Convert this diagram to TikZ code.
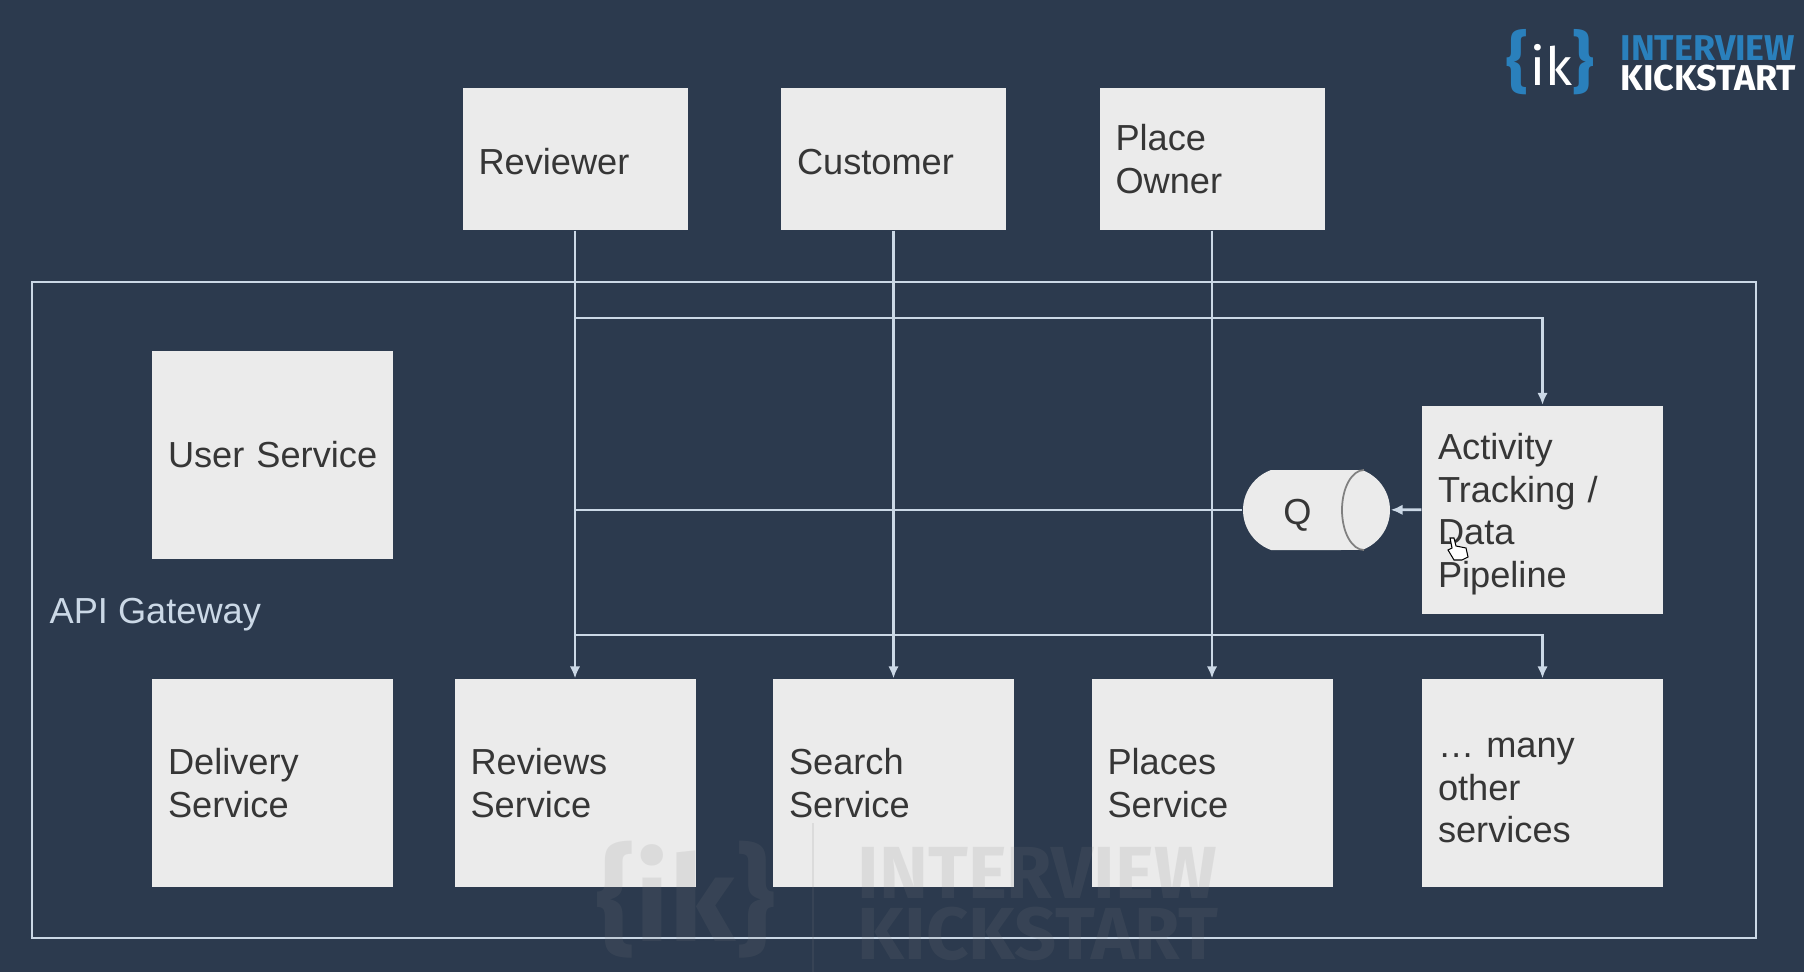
\documentclass[tikz,border=0pt]{standalone}
\usepackage{fontspec}
\setmainfont{Liberation Sans}
\newfontfamily\logofont{Fira Sans}
\usetikzlibrary{positioning,arrows.meta,shapes.misc}
\definecolor{slidebg}{HTML}{2C3A4E}
\definecolor{boxfill}{HTML}{EBEBEB}
\definecolor{boxtext}{HTML}{363636}
\definecolor{wire}{HTML}{CBD8E6}
\definecolor{logoblue}{HTML}{2A80BC}
\newcommand{\dropline}[1]{\rule{0pt}{#1pt}}
\tikzset{
  box/.style={fill=boxfill,text=boxtext,align=left,anchor=center,inner xsep=.16cm,inner ysep=0pt,minimum height=2.08cm,text width=2.09cm,font=\fontsize{10.3}{12.1}\selectfont},
  actor/.style={box,minimum height=1.42cm,text width=1.93cm},
  flow/.style={draw=wire,line width=.8pt,-{Latex[length=3.4pt,width=3pt]}},
  wireline/.style={draw=wire,line width=.8pt},
  logotext/.style={inner sep=0pt,anchor=west,align=left,font=\logofont\fontsize{10.2}{8.5}\selectfont\bfseries},
  ghost/.style={inner sep=0pt,text=gray,opacity=.14,anchor=west,align=left,font=\logofont\fontsize{21}{17.6}\selectfont\bfseries}
}
\begin{document}
\begin{tikzpicture}
	\fill[slidebg] (0,0) rectangle (18.04,9.72);

	%gateway
	\node [draw=wire,line width=.8pt,minimum width=17.24cm,minimum height=6.56cm] (gateway) at (8.94,3.62) {};
	\node [text=wire,inner sep=0pt,anchor=west,font=\fontsize{10.3}{12.1}\selectfont] (gwlabel) at (.49,3.57) {API Gateway};

	%actors
	\node [actor] (reviewer) at (5.75,8.13) {\dropline{8.7}Reviewer};
	\node [actor] (customer) at (8.935,8.13) {\dropline{8.7}Customer};
	\node [actor] (owner) at (12.12,8.13) {Place\\Owner};

	%services
	\node [box] (user) at (2.725,5.175) {\mbox{User Service}};
	\node [box] (activity) at (15.425,4.625) {\dropline{10}Activity\\Tracking /\\Data\\Pipeline};
	\node [box] (delivery) at (2.725,1.89) {Delivery\\Service};
	\node [box] (reviews) at (5.75,1.89) {Reviews\\Service};
	\node [box] (search) at (8.935,1.89) {Search\\Service};
	\node [box] (places) at (12.12,1.89) {Places\\Service};
	\node [box] (others) at (15.425,1.89) {\dropline{10}\ldots\ many\\other\\services};

	%queue
	\node [shape=rounded rectangle,rounded rectangle arc length=140,fill=boxfill,text=boxtext,minimum width=1.47cm,minimum height=.8cm,inner sep=0pt,font=\fontsize{10.3}{12.1}\selectfont] (q) at (13.165,4.62) {\dropline{10}Q\hspace*{10.8pt}};
	\draw[gray,line width=.5pt] (13.64,5.02) arc[start angle=90,end angle=270,x radius=.22,y radius=.4];

	%junctions on the reviewer line
	\coordinate (j1) at (reviewer.south |- 0,6.54);
	\coordinate (j2) at (reviewer.south |- q.west);
	\coordinate (j3) at (reviewer.south |- 0,3.37);
	\coordinate (c1) at (activity.north |- j1);
	\coordinate (c3) at (others.north |- j3);

	%edges
	\draw[flow] (reviewer) -- (reviews);
	\draw[flow] (customer) -- (search);
	\draw[flow] (owner) -- (places);
	\draw[flow] (j1) -- (c1) -- (activity);
	\draw[flow] (j3) -- (c3) -- (others);
	\draw[flow] (activity) -- (q);
	\draw[wireline] (q) -- (j2);

	%cursor
	\draw[black,fill=white,line width=.3pt] (14.5,4.34) -- (14.54,4.34) -- (14.56,4.26) -- (14.66,4.24) -- (14.68,4.15) -- (14.62,4.12) -- (14.54,4.12) -- (14.48,4.22) -- (14.52,4.24) -- cycle;

	%logo
	\node [logotext,text=white,font=\logofont\fontsize{15}{15}\selectfont] (logoik) at (15.06,9.1) {\makebox[.24cm][l]{\textcolor{logoblue}{\fontsize{19}{19}\selectfont\bfseries\{}}\makebox[.42cm][l]{ik}\textcolor{logoblue}{\fontsize{19}{19}\selectfont\bfseries\}}};
	\node [logotext,text=white] (logoname) at (16.2,9.09) {\textcolor{logoblue}{INTERVIEW}\\KICKSTART};

	%watermark
	\node [ghost,font=\logofont\fontsize{34}{34}\selectfont\bfseries] (markik) at (5.96,.72) {\{ik\}};
	\node [ghost] (markname) at (8.57,.68) {INTERVIEW\\KICKSTART};
	\draw[gray,opacity=.14,line width=.5pt] (8.13,0) -- (8.13,1.49);
\end{tikzpicture}
\end{document}
